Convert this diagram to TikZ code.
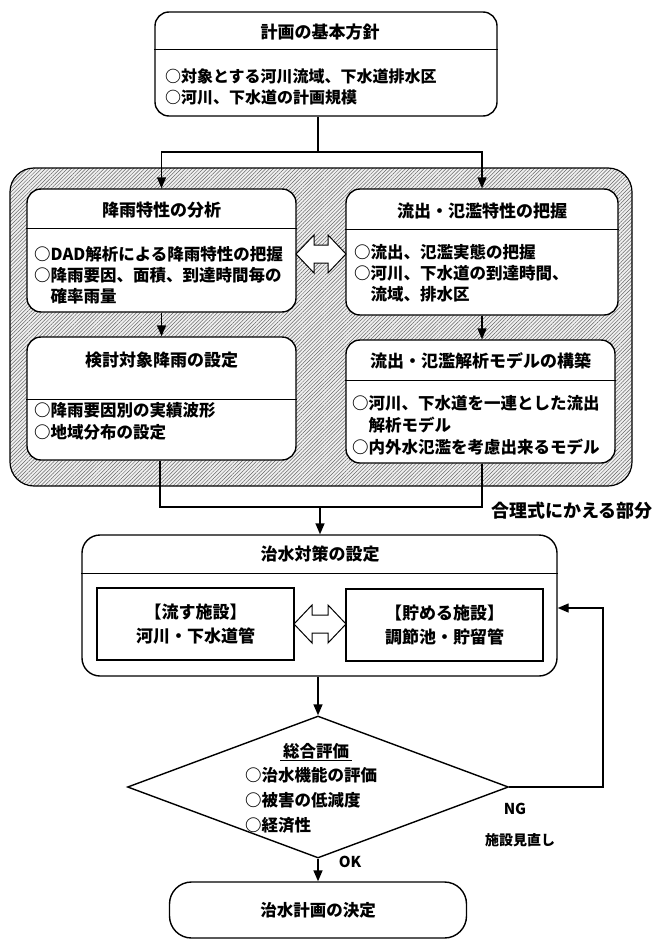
\documentclass[tikz,border=0pt]{standalone}
\usepackage{fontspec}
\setmainfont{Noto Sans CJK JP}
\usetikzlibrary{arrows.meta,patterns.meta,shapes.geometric}
\tikzset{
  rbox/.style={draw, line width=1.4pt, rounded corners=14pt, fill=white, inner sep=0pt},
  sqbox/.style={draw, line width=1.1pt, fill=white, inner sep=0pt},
  conn/.style={line width=1.4pt},
  arr/.style={conn, -{Triangle[length=11pt,width=9pt]}},
  divline/.style={line width=1pt},
  hdr/.style={font=\fontsize{17}{20}\selectfont\bfseries, inner sep=0pt},
  bodytxt/.style={font=\fontsize{16.5}{21}\selectfont\bfseries, align=left, inner sep=0pt, anchor=west},
  dblarr/.style={draw, line width=1pt, fill=white},
  panel/.style={draw, line width=1.2pt, rounded corners=24pt,
     pattern={Lines[angle=45, distance=2.6pt, line width=0.5pt]}, pattern color=black!60},
}
\newcommand\dbla[3]{% x1, x2, y
  \draw[dblarr] (#1,#3) -- ({#1+18},{#3-19}) -- ({#1+18},{#3-9}) -- ({#2-18},{#3-9})
    -- ({#2-18},{#3-19}) -- (#2,#3) -- ({#2-18},{#3+19}) -- ({#2-18},{#3+9})
    -- ({#1+18},{#3+9}) -- ({#1+18},{#3+19}) -- cycle;}
\begin{document}
\begin{tikzpicture}[x=1pt,y=-1pt]
\useasboundingbox (0,0) rectangle (656,942);
% gray panel
\fill[gray!12, rounded corners=24pt] (10,168) rectangle (632,486);
\node[panel, minimum width=622pt, minimum height=318pt] (pan) at (321,327) {};
% top box
\node[rbox, minimum width=342pt, minimum height=104pt] (top) at (326,64) {};
\draw[divline] (top.west |- 0,50) -- (top.east |- 0,50);
\node[hdr] (toph) at (320,32) {計画の基本方針};
\node[bodytxt, font=\fontsize{16}{21}\selectfont\bfseries] (topb) at (165,87) {○対象とする河川流域、下水道排水区\\○河川、下水道の計画規模};
% panel boxes
\node[rbox, minimum width=269pt, minimum height=123pt] (l1) at (161.5,250.5) {};
\draw[divline] (l1.west |- 0,228) -- (l1.east |- 0,228);
\node[hdr] (l1h) at (161.5,210) {降雨特性の分析};
\node[bodytxt] (l1b) at (34,275) {○DAD解析による降雨特性の把握\\○降雨要因、面積、到達時間毎の\\\hspace*{1em}確率雨量};
\node[rbox, minimum width=272pt, minimum height=126pt] (r1) at (482,252) {};
\draw[divline] (r1.west |- 0,229) -- (r1.east |- 0,229);
\node[hdr] (r1h) at (482,211) {流出・氾濫特性の把握};
\node[bodytxt] (r1b) at (354,273) {○流出、氾濫実態の把握\\○河川、下水道の到達時間、\\\hspace*{1em}流域、排水区};
\node[rbox, minimum width=269pt, minimum height=123pt] (l2) at (161.5,398.5) {};
\draw[divline] (l2.west |- 0,399) -- (l2.east |- 0,399);
\node[hdr] (l2h) at (161.5,360) {検討対象降雨の設定};
\node[bodytxt, font=\fontsize{16.5}{22}\selectfont\bfseries] (l2b) at (34,421) {○降雨要因別の実績波形\\○地域分布の設定};
\node[rbox, minimum width=269pt, minimum height=123pt] (r2) at (480.5,401.5) {};
\draw[divline] (r2.west |- 0,380) -- (r2.east |- 0,380);
\node[hdr] (r2h) at (480.5,361) {流出・氾濫解析モデルの構築};
\node[bodytxt, font=\fontsize{16.5}{22}\selectfont\bfseries] (r2b) at (352,425) {○河川、下水道を一連とした流出\\\hspace*{1em}解析モデル\\○内外水氾濫を考慮出来るモデル};
\dbla{296}{346}{254}
% connectors top
\coordinate (split) at (318,152);
\draw[conn] (top.south -| split) -- (split);
\draw[arr] (split) -| (l1.north);
\draw[arr] (split) -| (r1.north);
\draw[arr] (l1.south) -- (l2.north);
\draw[arr] (r1.south) -- (r2.north -| r1.south);
% join
\coordinate (jl) at (160,507);
\coordinate (jr) at (482,507);
\coordinate (jn) at (320,507);
\draw[conn] (l2.south -| jl) -- (jl) -- (jr) -- (r2.south -| jr);
\node[font=\fontsize{18}{20}\selectfont\bfseries, inner sep=0pt] (gouri) at (572,511) {合理式にかえる部分};
% middle box
\node[rbox, rounded corners=18pt, minimum width=475pt, minimum height=141pt] (mid) at (319.5,605.5) {};
\draw[arr] (jn) -- (mid.north -| jn);
\draw[divline] (mid.west |- 0,573) -- (mid.east |- 0,573);
\node[hdr] (midh) at (320,554) {治水対策の設定};
\node[sqbox, minimum width=197pt, minimum height=72pt] (il) at (195.5,624) {};
\node[sqbox, minimum width=197pt, minimum height=72pt] (ir) at (444.5,625) {};
\node[hdr, align=center, font=\fontsize{17}{24}\selectfont\bfseries] (ilt) at (il.center) {【流す施設】\\河川・下水道管};
\node[hdr, align=center, font=\fontsize{17}{24}\selectfont\bfseries] (irt) at (ir.center) {【貯める施設】\\調節池・貯留管};
\dbla{294}{346}{624}
% diamond
\node[diamond, draw, line width=1.4pt, minimum width=381pt, minimum height=142pt, inner sep=0pt] (dia) at (318,787) {};
\coordinate (mo) at (318,677);
\draw[arr] (mid.south -| mo) -- (dia.north);
\node[hdr, font=\fontsize{16.5}{20}\selectfont\bfseries] (diah) at (316,752) {\underline{\,総合評価\,}};
\node[bodytxt, font=\fontsize{16.5}{25}\selectfont\bfseries] (diab) at (245,800) {○治水機能の評価\\○被害の低減度\\○経済性};
% feedback
\coordinate (fb) at (603,608);
\draw[arr] (dia.east) -| (fb) -- (mid.east |- fb);
\node[font=\fontsize{15}{18}\selectfont\bfseries, inner sep=0pt] (ng) at (515,809) {NG};
\node[font=\fontsize{14}{18}\selectfont\bfseries, inner sep=0pt] (mina) at (520,840) {施設見直し};
% final
\node[rbox, rounded corners=22pt, minimum width=297pt, minimum height=56pt] (fin) at (318,910) {};
\draw[arr] (dia.south) -- (fin.north);
\node[hdr, font=\fontsize{16.5}{20}\selectfont\bfseries] (fint) at (fin.center) {治水計画の決定};
\node[font=\fontsize{15}{18}\selectfont\bfseries, inner sep=0pt] (ok) at (350,862) {OK};
\end{tikzpicture}
\end{document}
